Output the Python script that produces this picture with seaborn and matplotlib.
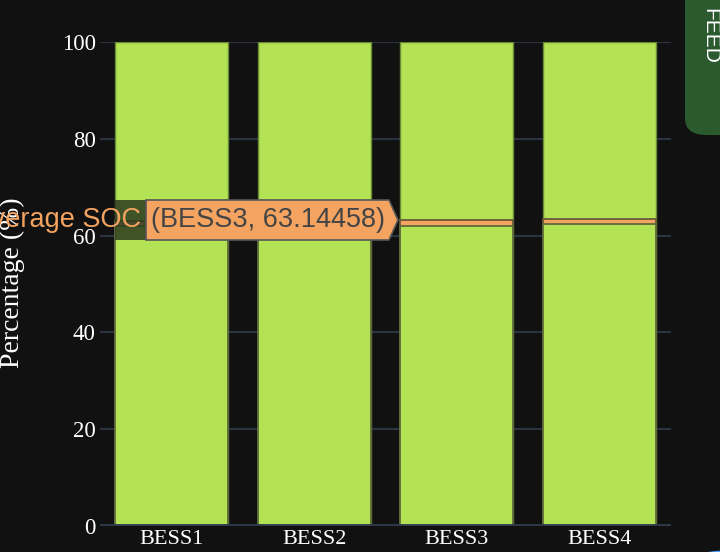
import matplotlib
matplotlib.use("Agg")
import matplotlib.pyplot as plt
import seaborn as sns
import pandas as pd
from matplotlib.patches import Polygon, FancyBboxPatch, Circle, Rectangle

# ---- data ----
categories = ["BESS1", "BESS2", "BESS3", "BESS4"]
capacity = [100, 100, 100, 100]
avg_soc = [63.0, 63.0, 63.14458, 63.4]
y_ticks = [0, 20, 40, 60, 80, 100]
tooltip_series = "Average SOC"
tooltip_point = "(BESS3, 63.14458)"
panel_text = "FEED"

BAND = 1.1  # visual thickness of the SOC marker band

df = pd.DataFrame({"cat": categories, "cap": capacity, "soc": avg_soc})
df["below"] = df["soc"] - BAND

BG = "#111111"
GREEN = "#b3e354"
EDGE = "#6b8a34"
ORANGE = "#f4a460"
GRID = "#2a3440"

sns.set_theme(style="dark")
plt.rcParams["font.family"] = ["Liberation Serif", "DejaVu Serif"]

fig = plt.figure(figsize=(7.2, 5.52), dpi=100, facecolor=BG)
ax = fig.add_axes([100 / 720, 26 / 552, 571 / 720, 484 / 552])
ax.set_facecolor(BG)

sns.barplot(data=df, x="cat", y="cap", color=GREEN, saturation=1, width=0.79,
            edgecolor=EDGE, linewidth=1, ax=ax, zorder=2)
sns.barplot(data=df, x="cat", y="soc", color=ORANGE, saturation=1, width=0.79,
            edgecolor="#6a5a3a", linewidth=1.3, ax=ax, zorder=3)
sns.barplot(data=df, x="cat", y="below", color=GREEN, saturation=1, width=0.79,
            edgecolor="#5d6b3a", linewidth=1.3, ax=ax, zorder=4)

ax.set_xlim(-0.5, 3.5)
ax.set_ylim(0, 100)
ax.set_yticks(y_ticks)
ax.set_yticklabels([str(t) for t in y_ticks])
for s in ax.spines.values():
    s.set_visible(False)
ax.grid(False)
for t in y_ticks[1:]:
    ax.axhline(t, color=GRID, lw=1.5, zorder=1)
ax.axhline(0, color="#2e3a48", lw=3.5, zorder=5)
ax.tick_params(axis="y", length=0, colors="white", labelsize=16.5, pad=3)
ax.tick_params(axis="x", length=0, colors="white", labelsize=16, pad=3)
ax.set_xlabel("")
ax.set_ylabel("")
fig.text(12 / 720, 1 - 283 / 552, "Percentage (%)", color="white", fontsize=20,
         rotation=90, ha="center", va="center")

# ---- tooltip ----
W, H = 720, 552
def fx(x):
    return x / W
def fy(y):
    return 1 - y / H

fig.patches.append(Rectangle((fx(115), fy(240)), 31 / W, 40 / H, transform=fig.transFigure,
                             facecolor="#2b3a20", edgecolor="none", alpha=0.85, zorder=10))
fig.text(fx(141), fy(220), tooltip_series, color=ORANGE, fontsize=19.5,
         family=["Liberation Sans", "DejaVu Sans"], ha="right", va="center", zorder=12)
poly = Polygon([(fx(146), fy(200)), (fx(389), fy(200)), (fx(398), fy(220)),
                (fx(389), fy(240)), (fx(146), fy(240))], closed=True,
               transform=fig.transFigure, facecolor=ORANGE, edgecolor="#555555",
               lw=1.2, zorder=11)
fig.patches.append(poly)
fig.text(fx(151), fy(220), tooltip_point, color="#444444", fontsize=19.5,
         family=["Liberation Sans", "DejaVu Sans"], ha="left", va="center", zorder=12)

# ---- side panel (top right) ----
fig.patches.append(FancyBboxPatch((fx(685), fy(135)), 60 / W, 160 / H,
                                  boxstyle="round,pad=0,rounding_size=0.03",
                                  transform=fig.transFigure, facecolor="#2b5a2f",
                                  edgecolor="none", zorder=10))
fig.text(fx(719), fy(8), panel_text, color="white", fontsize=15, rotation=-90,
         family=["Liberation Sans", "DejaVu Sans"], ha="right", va="top", zorder=12)

# ---- round button (bottom right) ----
fig.patches.append(Circle((fx(725), fy(608)), 75 / W, transform=fig.transFigure,
                          facecolor="#4d9ef7", edgecolor="none", zorder=10))

fig.savefig("out.png", dpi=100, facecolor=BG)
